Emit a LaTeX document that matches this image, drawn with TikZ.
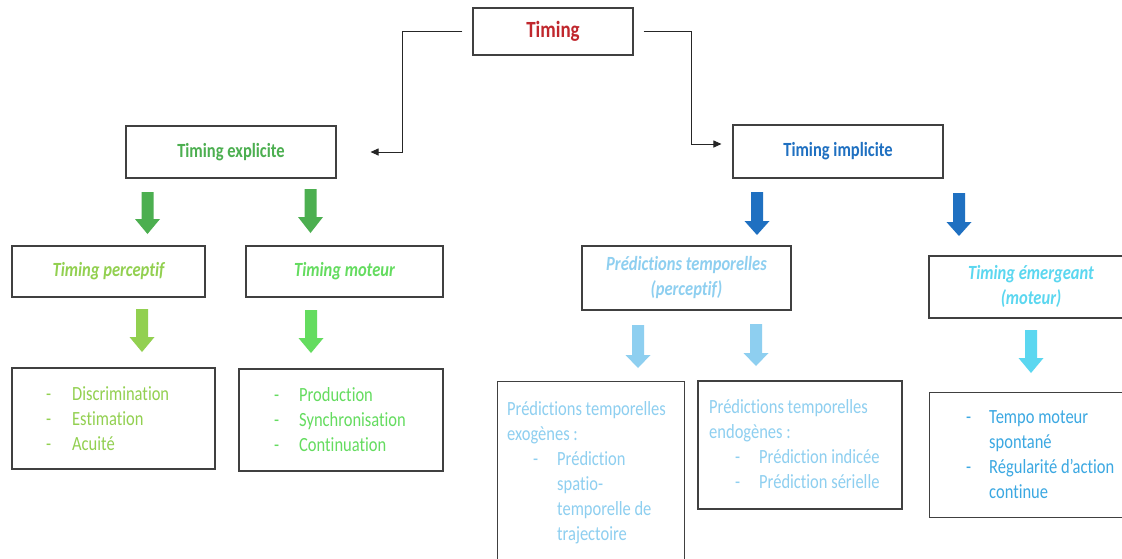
\documentclass[tikz,border=0pt]{standalone}
\usepackage{fontspec}
\setmainfont{Carlito}[Ligatures=NoCommon]
\usepackage{graphicx}
\usepackage{array}
\usetikzlibrary{arrows.meta}
\definecolor{cRed}{RGB}{192,39,45}
\definecolor{cGreen}{RGB}{76,175,80}
\definecolor{cYG}{RGB}{146,208,80}
\definecolor{cBG}{RGB}{100,220,95}
\definecolor{cBlue}{RGB}{31,112,193}
\definecolor{cLB}{RGB}{142,207,240}
\definecolor{cCy}{RGB}{91,215,240}
\definecolor{cTempo}{RGB}{59,168,226}
\newcommand\vst[1]{\scalebox{1}[1.22]{#1}}
\newcommand\fsz{\fontsize{16.5}{20.5}\selectfont}
\newcommand\blk[5]{\fill[#5] ({#1-6},#2) -- ({#1+6},#2) -- ({#1+6},#3) -- ({#1+12.5},#3) -- (#1,#4) -- ({#1-12.5},#3) -- ({#1-6},#3) -- cycle;}
\begin{document}
\begin{tikzpicture}[x=1pt,y=-1pt,
  box/.style={draw=black!75, line width=1.1pt, inner sep=0pt, align=center},
  head/.style={font=\fsz\bfseries},
  ihead/.style={font=\fsz\bfseries\itshape},
  lst/.style={anchor=base west, inner sep=0pt, font=\fsz},
  conn/.style={draw=black!85, line width=1pt, -{Triangle[length=8pt,width=7pt]}}]
\useasboundingbox[fill=white] (0,0) rectangle (1122,558);

% top level
\node[box, minimum width=160, minimum height=47, font=\fontsize{19}{23}\selectfont\bfseries, text=cRed] (timing) at (553,31.5) {\vst{Timing}};
\node[box, head, minimum width=210, minimum height=52, text=cGreen] (expl) at (231,152) {\vst{Timing explicite}};
\node[box, head, minimum width=210, minimum height=53, text=cBlue] (impl) at (838,151.5) {\vst{Timing implicite}};

\draw[conn] ([xshift=-10pt]timing.west) -- ++(-60,0) |- ([xshift=34pt]expl.east);
\draw[conn] ([xshift=10pt]timing.east) -- ++(48,0) |- ([xshift=-11pt,yshift=7.5pt]impl.west);

% block arrows
\blk{147.5}{192}{219}{234}{cGreen}
\blk{310.5}{189}{217}{233}{cGreen}
\blk{142}{309}{337}{352}{cYG}
\blk{311}{310}{338}{353}{cBG}
\blk{757}{192}{221}{235}{cBlue}
\blk{959}{193}{222}{236}{cBlue}
\blk{638}{325}{355}{368}{cLB}
\blk{756}{324}{353}{366}{cLB}
\blk{1031}{330}{358}{373}{cCy}

% second level
\node[box, ihead, minimum width=193, minimum height=51, text=cYG] (tperc) at (108.5,271.5) {\vst{Timing perceptif}};
\node[box, ihead, minimum width=197, minimum height=51, text=cBG] (tmot) at (344.5,271.5) {\vst{Timing moteur}};
\node[box, ihead, minimum width=209, minimum height=64, text=cLB] (predp) at (686.5,278) {\vst{\begin{tabular}{@{}c@{}}Prédictions temporelles\\(perceptif)\end{tabular}}};
\node[box, ihead, minimum width=204, minimum height=62, text=cCy] (temer) at (1031,287) {\vst{\begin{tabular}{@{}c@{}}Timing émergeant\\(moteur)\end{tabular}}};

% third level boxes
\node[box, minimum width=203, minimum height=101] (lperc) at (113.5,418.5) {};
\node[box, minimum width=204, minimum height=102] (lmot) at (341,420) {};
\node[box, minimum width=187, minimum height=200, anchor=north west] (exo) at (497,381) {};
\node[box, minimum width=204, minimum height=128] (endo) at (800,445) {};
\node[box, minimum width=204, minimum height=125, anchor=north west] (tempo) at (929,392) {};

% list texts
\node[lst, text=cYG] (lperct) at (46,400) {\vst{\begin{tabular}[t]{@{}p{26pt}@{}l@{}}-&Discrimination\\-&Estimation\\-&Acuité\end{tabular}}};
\node[lst, text=cBG] (lmott) at (274,401) {\vst{\begin{tabular}[t]{@{}p{25pt}@{}l@{}}-&Production\\-&Synchronisation\\-&Continuation\end{tabular}}};
\node[lst, text=cLB] (exot) at (507,415) {\vst{\begin{tabular}[t]{@{}p{50pt}@{}l@{}}\multicolumn{2}{@{}l@{}}{Prédictions temporelles}\\\multicolumn{2}{@{}l@{}}{exogènes :}\\\hspace{26pt}-&Prédiction\\&spatio-\\&temporelle de\\&trajectoire\end{tabular}}};
\node[lst, text=cLB] (endot) at (709,413) {\vst{\begin{tabular}[t]{@{}p{50pt}@{}l@{}}\multicolumn{2}{@{}l@{}}{Prédictions temporelles}\\\multicolumn{2}{@{}l@{}}{endogènes :}\\\hspace{26pt}-&Prédiction indicée\\\hspace{26pt}-&Prédiction sérielle\end{tabular}}};
\node[lst, text=cTempo] (tempot) at (966,423) {\vst{\begin{tabular}[t]{@{}p{23pt}@{}l@{}}-&Tempo moteur\\&spontané\\-&Régularité d’action\\&continue\end{tabular}}};
\end{tikzpicture}
\end{document}
